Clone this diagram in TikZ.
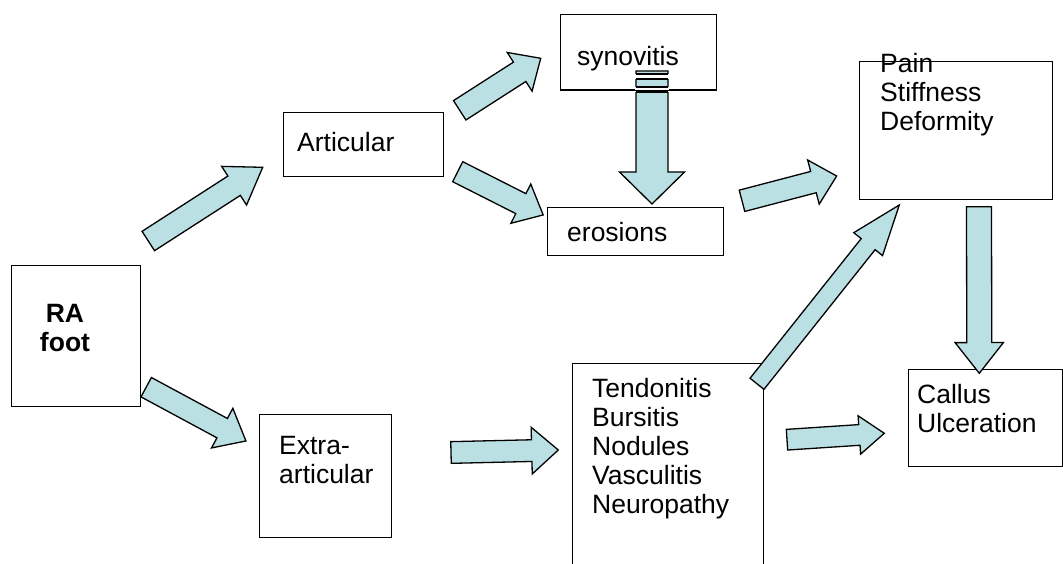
\documentclass[tikz,border=0pt]{standalone}
\usepackage{fontspec}
\setmainfont{Liberation Sans}
\usetikzlibrary{calc}
\definecolor{arrowblue}{HTML}{BBE0E3}

\tikzset{
  box/.style={draw=black, line width=1.3pt, inner sep=0pt, anchor=north west},
  arrowbody/.style={draw=black, line width=1.3pt, fill=arrowblue, line join=miter},
  txt/.style={font=\fontsize{26.5}{29}\selectfont, inner sep=0pt, anchor=base west},
}

% block arrow from coordinate #1 to coordinate #2:
% shaft width #3, head width #4, head length #5 (all in pt)
\newcommand\blockarrow[5]{%
  \pgfpointdiff{\pgfpointanchor{#1}{center}}{\pgfpointanchor{#2}{center}}%
  \pgfgetlastxy{\bdx}{\bdy}%
  \pgfmathsetmacro\bang{atan2(\bdy,\bdx)}%
  \pgfmathsetmacro\blen{veclen(\bdx,\bdy)}%
  \pgfmathsetmacro\bneck{\blen-#5}%
  \pgfmathsetmacro\bsw{#3/2}%
  \pgfmathsetmacro\bhw{#4/2}%
  \begin{scope}[shift={(#1)}, rotate=\bang]
    \draw[arrowbody] (0pt,\bsw pt) -- (\bneck pt,\bsw pt) -- (\bneck pt,\bhw pt)
      -- (\blen pt,0pt) -- (\bneck pt,-\bhw pt) -- (\bneck pt,-\bsw pt)
      -- (0pt,-\bsw pt) -- cycle;
  \end{scope}}

% rectangle node: name, left, top, width, height
\newcommand\boxnode[5]{%
  \node[box, minimum width=#4pt, minimum height=#5pt] (#1) at (#2,#3) {};}

\begin{document}
\begin{tikzpicture}[x=1pt,y=-1pt]
\useasboundingbox (0,0) rectangle (1063,564);

% boxes
\boxnode{ra}{11}{265}{129}{141}
\boxnode{art}{283}{112}{160}{64}
\boxnode{syn}{560}{14}{156}{75}
\boxnode{ero}{547}{207}{176}{48}
\boxnode{pain}{859}{61}{193}{138}
\boxnode{call}{908}{369}{154}{97}
\boxnode{tend}{572}{363}{191}{240}
\boxnode{extra}{259}{414}{132}{123}

% arrow end points
\coordinate (a1s) at (148.3,241);   \coordinate (a1e) at (262.7,167.3);
\coordinate (a2s) at (459.7,110.3); \coordinate (a2e) at (540.7,58.3);
\coordinate (a3s) at (457.7,171.7); \coordinate (a3e) at (543.3,215);
\coordinate (a4s) at (652,71);      \coordinate (a4e) at (652,204);
\coordinate (a5s) at (742,200.8);   \coordinate (a5e) at (836.7,176);
\coordinate (a6s) at (146.2,387.2); \coordinate (a6e) at (246,441);
\coordinate (a7s) at (451,452.5);   \coordinate (a7e) at (558.3,450);
\coordinate (a8s) at (787,439.7);   \coordinate (a8e) at (884.3,433.3);
\coordinate (a9s) at (757,383.8);   \coordinate (a9e) at (899.3,205);
\coordinate (a10s) at (979,206.7);  \coordinate (a10e) at (979.3,373.3);

% block arrows
\blockarrow{a1s}{a1e}{23}{46}{34}
\blockarrow{a2s}{a2e}{23}{46}{25}
\blockarrow{a3s}{a3e}{22.4}{44}{25}
\blockarrow{a4s}{a4e}{32}{65}{32}
\blockarrow{a5s}{a5e}{22}{45.6}{24}
\blockarrow{a6s}{a6e}{22}{45}{27}
\blockarrow{a7s}{a7e}{21.7}{46.7}{26.6}
\blockarrow{a8s}{a8e}{20.7}{38.4}{25}
\blockarrow{a9s}{a9e}{17.8}{36.8}{50}
\blockarrow{a10s}{a10e}{25}{48.3}{30.7}

% gaps across the shaft where it leaves the synovitis box
\fill[white] (635.2,74) rectangle (668.8,79);
\fill[white] (635.2,87) rectangle (668.8,92);
\draw[line width=1.3pt] (636,74) -- (668,74) (636,79) -- (668,79)
  (636,87) -- (668,87) (636,92) -- (668,92);
\draw[line width=1.3pt] (syn.south west) -- (syn.south east);

% labels
\node[txt, anchor=base, font=\fontsize{26.5}{29}\selectfont\bfseries] (ra-t) at (65,322)
  {\begin{tabular}[t]{@{}c@{}}RA\\foot\end{tabular}};
\node[txt] (art-t) at (297,152) {Articular};
\node[txt] (syn-t) at (577,66) {synovitis};
\node[txt] (ero-t) at (567,241) {erosions};
\node[txt] (pain-t) at (880,73)
  {\begin{tabular}[t]{@{}l@{}}Pain\\Stiffness\\Deformity\end{tabular}};
\node[txt] (call-t) at (917,403)
  {\begin{tabular}[t]{@{}l@{}}Callus\\Ulceration\end{tabular}};
\node[txt] (tend-t) at (592,397)
  {\begin{tabular}[t]{@{}l@{}}Tendonitis\\Bursitis\\Nodules\\Vasculitis\\Neuropathy\end{tabular}};
\node[txt] (extra-t) at (279,454)
  {\begin{tabular}[t]{@{}l@{}}Extra-\\articular\end{tabular}};
\end{tikzpicture}
\end{document}
